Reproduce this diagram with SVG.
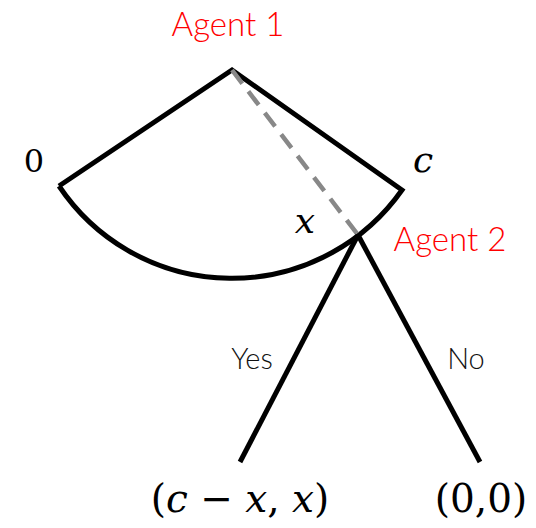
<svg xmlns="http://www.w3.org/2000/svg" width="536" height="528" viewBox="0 0 536 528">
<style>
.lbl{font-family:"Lato","Open Sans","Liberation Sans",sans-serif;font-weight:300}
.agent{fill:#ff0000;font-size:33px}
.branch{fill:#111;font-size:29px}
.math{font-family:"DejaVu Serif","Liberation Serif",serif;fill:#000}
.edge{stroke:#000;stroke-width:5;fill:none;stroke-linejoin:miter}
</style>
<rect width="536" height="528" fill="#fff"/>
<g id="connectors">
<path id="sector" class="edge" d="M59,186 L232,70 L402,190 A208,208 0 0 1 59,186"/>
<line id="dashed" x1="232" y1="70" x2="358" y2="235" stroke="#888" stroke-width="4.5" stroke-dasharray="17,10"/>
<line id="yes-edge" class="edge" x1="358" y1="235" x2="240" y2="462"/>
<line id="no-edge" class="edge" x1="358" y1="235" x2="480" y2="462"/>
</g>
<g id="agent1"><text class="lbl agent" x="228" y="36" text-anchor="middle">Agent 1</text></g>
<g id="agent2"><text class="lbl agent" x="450" y="251" text-anchor="middle">Agent 2</text></g>
<g id="zero"><text class="math" x="34" y="172" font-size="32" text-anchor="middle">0</text></g>
<g id="c-label"><text class="math" x="423" y="172" font-size="36" font-style="italic" text-anchor="middle">c</text></g>
<g id="x-label"><text class="math" x="305" y="233" font-size="36" font-style="italic" text-anchor="middle">x</text></g>
<g id="yes"><text class="lbl branch" x="252" y="369" text-anchor="middle">Yes</text></g>
<g id="no"><text class="lbl branch" x="466" y="369" text-anchor="middle">No</text></g>
<g id="payoff-yes"><text class="math" x="240" y="512" font-size="39" text-anchor="middle">(<tspan font-style="italic">c</tspan> − <tspan font-style="italic">x</tspan>, <tspan font-style="italic">x</tspan>)</text></g>
<g id="payoff-no"><text class="math" x="481" y="512" font-size="39" text-anchor="middle">(0,0)</text></g>
</svg>
